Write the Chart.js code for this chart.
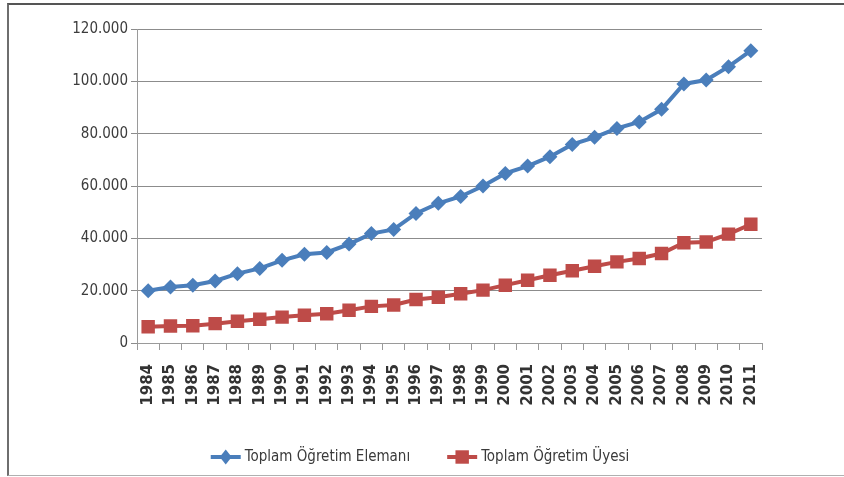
<!DOCTYPE html>
<html>
<head>
<meta charset="utf-8">
<script src="https://cdn.jsdelivr.net/npm/chart.js@4/dist/chart.umd.min.js"></script>
<style>
  html, body { margin: 0; padding: 0; background: #fff; overflow: hidden; }
  #frame {
    position: absolute; left: 7px; top: 3px; width: 837px; height: 470px;
    border-left: 2px solid #6e6e6e; border-top: 2px solid #555; border-bottom: 1px solid #b0b0b0;
  }
  #chart { position: absolute; left: 0; top: 0; }
</style>
</head>
<body>
<div id="frame"></div>
<canvas id="chart" width="844" height="477"></canvas>
<script>
const years = ["1984", "1985", "1986", "1987", "1988", "1989", "1990", "1991", "1992", "1993",
  "1994", "1995", "1996", "1997", "1998", "1999", "2000", "2001", "2002", "2003",
  "2004", "2005", "2006", "2007", "2008", "2009", "2010", "2011"];

const elemanValues = [20000, 21400, 22100, 23700, 26500, 28500, 31600, 33900, 34600, 37800,
  41800, 43400, 49500, 53400, 56000, 60000, 64800, 67600, 71200, 75900,
  78600, 82000, 84500, 89300, 99000, 100500, 105600, 111700];

const uyeValues = [6200, 6500, 6600, 7400, 8300, 9100, 9900, 10600, 11200, 12500,
  14000, 14500, 16600, 17500, 18800, 20200, 22100, 24000, 25900, 27600,
  29300, 31000, 32300, 34200, 38300, 38600, 41600, 45400];

const seriesNames = ["Toplam Öğretim Elemanı", "Toplam Öğretim Üyesi"];
const yTicks = [0, 20000, 40000, 60000, 80000, 100000, 120000];

const blue = "#4a7ebb";
const red = "#be4b48";
const narrow = "'Liberation Sans Narrow', 'DejaVu Sans Condensed', sans-serif";

function formatTr(v) {
  return String(v).replace(/\B(?=(\d{3})+(?!\d))/g, ".");
}

function drawMarker(ctx, style, x, y, r) {
  ctx.beginPath();
  if (style === "rectRot") {
    ctx.moveTo(x, y - r);
    ctx.lineTo(x + r * 0.8, y);
    ctx.lineTo(x, y + r);
    ctx.lineTo(x - r * 0.8, y);
    ctx.closePath();
  } else {
    let s = r * Math.SQRT1_2;
    ctx.rect(x - s, y - s, 2 * s, 2 * s);
  }
  ctx.fill();
}

// legend drawn as line + marker, like the office style
const lineLegend = {
  id: "lineLegend",
  afterDraw(chart) {
    const ctx = chart.ctx;
    const y = 457;
    ctx.save();
    ctx.font = "15px " + narrow;
    ctx.textBaseline = "middle";
    let items = chart.data.datasets.map(ds => ({
      label: ds.label, color: ds.borderColor, style: ds.pointStyle, r: ds.pointRadius,
      w: 34 + ctx.measureText(ds.label).width
    }));
    let total = items.reduce((a, it) => a + it.w, 0) + 37 * (items.length - 1);
    let x = 420 - total / 2;
    items.forEach(it => {
      ctx.strokeStyle = it.color;
      ctx.fillStyle = it.color;
      ctx.lineWidth = 4;
      ctx.beginPath();
      ctx.moveTo(x, y);
      ctx.lineTo(x + 30, y);
      ctx.stroke();
      drawMarker(ctx, it.style, x + 15, y, it.r);
      ctx.fillStyle = "#3a3a3a";
      ctx.fillText(it.label, x + 34, y);
      x += it.w + 37;
    });
    ctx.restore();
  }
};

new Chart(document.getElementById("chart").getContext("2d"), {
  type: "line",
  data: {
    labels: years,
    datasets: [
      {
        label: seriesNames[0], data: elemanValues,
        borderColor: blue, backgroundColor: blue, borderWidth: 4,
        pointStyle: "rectRot", pointRadius: 7.5, pointBorderWidth: 0, tension: 0
      },
      {
        label: seriesNames[1], data: uyeValues,
        borderColor: red, backgroundColor: red, borderWidth: 4,
        pointStyle: "rect", pointRadius: 9.5, pointBorderWidth: 0, tension: 0
      }
    ]
  },
  options: {
    responsive: false,
    animation: false,
    layout: { padding: { top: 29, right: 82, left: 0, bottom: 0 } },
    plugins: { legend: { display: false }, tooltip: { enabled: false } },
    scales: {
      x: {
        offset: true,
        grid: { offset: true, drawOnChartArea: false, tickLength: 7, color: "#9a9a9a" },
        border: { color: "#9a9a9a" },
        ticks: {
          minRotation: 90, maxRotation: 90, padding: 14, autoSkip: false,
          font: { family: "'DejaVu Sans', sans-serif", size: 15, weight: "bold" }, color: "#333"
        },
        afterFit: s => { s.height = 134; }
      },
      y: {
        min: 0, max: 120000,
        afterBuildTicks: s => { s.ticks = yTicks.map(v => ({ value: v })); },
        grid: { color: "#8c8c8c", tickLength: 6 },
        border: { color: "#9a9a9a" },
        ticks: {
          padding: 3, color: "#3c3c3c",
          font: { family: narrow, size: 15 },
          callback: v => formatTr(v)
        },
        afterFit: s => { s.width = 137; }
      }
    }
  },
  plugins: [lineLegend]
});
</script>
</body>
</html>
